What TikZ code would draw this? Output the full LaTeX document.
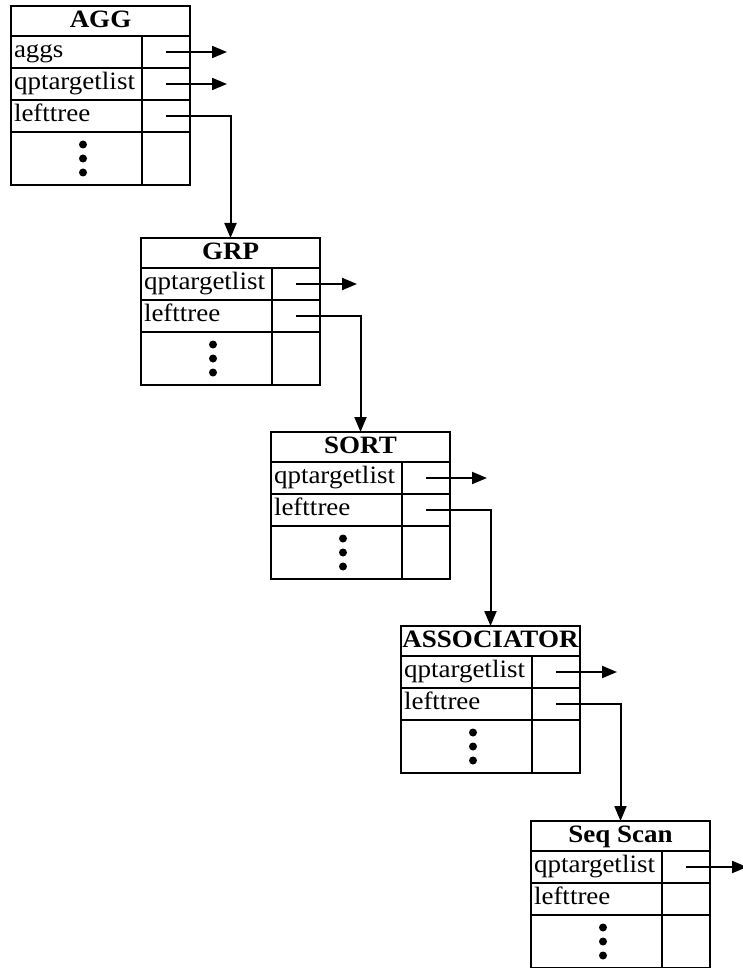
\documentclass[tikz,border=0pt]{standalone}
\usepackage{fontspec}
\setmainfont[FakeStretch=1.08]{Liberation Serif}
\usetikzlibrary{arrows.meta}

\tikzset{
  hdr/.style={draw, line width=2pt, anchor=north west, inner sep=0pt, outer sep=0pt,
    minimum width=179pt, minimum height=30pt, text height=17pt, text depth=4pt,
    font=\fontsize{25}{28}\selectfont\bfseries},
  fld/.style={draw, line width=2pt, anchor=north west, inner xsep=3pt, inner ysep=0pt,
    outer sep=0pt, text width=125pt, align=left, minimum height=32pt,
    text height=17pt, text depth=6pt, font=\fontsize{25}{28}\selectfont},
  ptr/.style={draw, line width=2pt, anchor=north west, inner sep=0pt, outer sep=0pt,
    minimum width=48pt, minimum height=32pt},
  more/.style={fld, minimum height=53pt},
  moreptr/.style={ptr, minimum height=53pt},
  link/.style={line width=2pt, -{Triangle[length=15pt,width=12pt]}}
}
\newcommand{\moredots}[1]{%
  \foreach \d in {-14,0,14} \fill ([xshift=6.5pt,yshift=\d pt]#1.center) circle (4pt);}

\begin{document}
\begin{tikzpicture}[x=1pt, y=-1pt]
\useasboundingbox (0,0) rectangle (742,968);

% AGG
\node[hdr] (agg-h) at (11,6) {AGG};
\node[fld] (agg-a) at (agg-h.south west) {aggs};
\node[ptr] (agg-ap) at (agg-a.north east) {};
\node[fld] (agg-q) at (agg-a.south west) {qptargetlist};
\node[ptr] (agg-qp) at (agg-q.north east) {};
\node[fld] (agg-l) at (agg-q.south west) {lefttree};
\node[ptr] (agg-lp) at (agg-l.north east) {};
\node[more] (agg-m) at (agg-l.south west) {};
\node[moreptr] (agg-mp) at (agg-m.north east) {};
\moredots{agg-m}

% GRP
\node[hdr] (grp-h) at (141,238) {GRP};
\node[fld] (grp-q) at (grp-h.south west) {qptargetlist};
\node[ptr] (grp-qp) at (grp-q.north east) {};
\node[fld] (grp-l) at (grp-q.south west) {lefttree};
\node[ptr] (grp-lp) at (grp-l.north east) {};
\node[more] (grp-m) at (grp-l.south west) {};
\node[moreptr] (grp-mp) at (grp-m.north east) {};
\moredots{grp-m}

% SORT
\node[hdr] (sort-h) at (271,432) {SORT};
\node[fld] (sort-q) at (sort-h.south west) {qptargetlist};
\node[ptr] (sort-qp) at (sort-q.north east) {};
\node[fld] (sort-l) at (sort-q.south west) {lefttree};
\node[ptr] (sort-lp) at (sort-l.north east) {};
\node[more] (sort-m) at (sort-l.south west) {};
\node[moreptr] (sort-mp) at (sort-m.north east) {};
\moredots{sort-m}

% ASSOCIATOR
\node[hdr] (asc-h) at (401,626) {ASSOCIATOR};
\node[fld] (asc-q) at (asc-h.south west) {qptargetlist};
\node[ptr] (asc-qp) at (asc-q.north east) {};
\node[fld] (asc-l) at (asc-q.south west) {lefttree};
\node[ptr] (asc-lp) at (asc-l.north east) {};
\node[more] (asc-m) at (asc-l.south west) {};
\node[moreptr] (asc-mp) at (asc-m.north east) {};
\moredots{asc-m}

% Seq Scan
\node[hdr] (seq-h) at (531,821) {Seq Scan};
\node[fld] (seq-q) at (seq-h.south west) {qptargetlist};
\node[ptr] (seq-qp) at (seq-q.north east) {};
\node[fld] (seq-l) at (seq-q.south west) {lefttree};
\node[ptr] (seq-lp) at (seq-l.north east) {};
\node[more] (seq-m) at (seq-l.south west) {};
\node[moreptr] (seq-mp) at (seq-m.north east) {};
\moredots{seq-m}

% free ends
\coordinate (agg-ae) at ([xshift=61pt]agg-ap.center);
\coordinate (agg-qe) at ([xshift=61pt]agg-qp.center);
\coordinate (grp-qe) at ([xshift=61pt]grp-qp.center);
\coordinate (sort-qe) at ([xshift=61pt]sort-qp.center);
\coordinate (asc-qe) at ([xshift=61pt]asc-qp.center);
\coordinate (seq-qe) at ([xshift=61pt]seq-qp.center);

\draw[link] (agg-ap.center) -- (agg-ae);
\draw[link] (agg-qp.center) -- (agg-qe);
\draw[link] (grp-qp.center) -- (grp-qe);
\draw[link] (sort-qp.center) -- (sort-qe);
\draw[link] (asc-qp.center) -- (asc-qe);
\draw[link] (seq-qp.center) -- (seq-qe);

\draw[link] (agg-lp.center) -| (grp-h.north);
\draw[link] (grp-lp.center) -| (sort-h.north);
\draw[link] (sort-lp.center) -| (asc-h.north);
\draw[link] (asc-lp.center) -| (seq-h.north);
\end{tikzpicture}
\end{document}
